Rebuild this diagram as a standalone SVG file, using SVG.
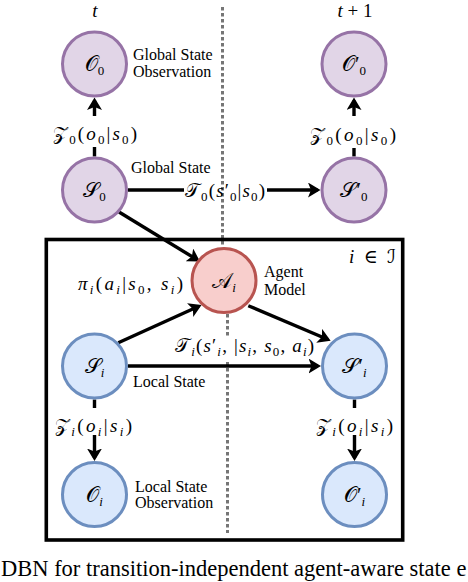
<svg xmlns="http://www.w3.org/2000/svg" width="468" height="582" viewBox="0 0 468 582">
<style>
.np{fill:#e1d5e7;stroke:#9673a6;stroke-width:3}
.nr{fill:#f8cecc;stroke:#b85450;stroke-width:3}
.nb{fill:#dae8fc;stroke:#6c8ebf;stroke-width:3}
.e{fill:none;stroke:#000;stroke-width:3.4;marker-end:url(#ah)}
.m{font-family:"Liberation Serif","DejaVu Serif",serif;font-size:19px;fill:#000}
.nl{font-family:"Liberation Serif","DejaVu Serif",serif;font-size:21px;fill:#000}
.it{font-style:italic}
.sb{font-size:13px}
.cal{font-family:"DejaVu Serif","DejaVu Sans","Noto Sans",serif;font-style:normal}
.lb{font-family:"Liberation Serif",serif;font-size:16px;fill:#000}
.cap{font-family:"Liberation Serif",serif;font-size:22.5px;fill:#000}
</style>
<defs>
<marker id="ah" markerUnits="userSpaceOnUse" viewBox="0 0 13 15" markerWidth="13" markerHeight="15" refX="9.5" refY="7.5" orient="auto">
<path d="M0,0 L12.5,7.5 L0,15 L3,7.5 Z" fill="#000"/>
</marker>
</defs>
<rect width="468" height="582" fill="#fff"/>
<g id="timeline" stroke="#767676" stroke-width="3" stroke-dasharray="3.6 2.4" fill="none">
<path d="M222.5,7 V247"/>
<path d="M227.5,314 V533"/>
</g>
<g id="plate">
<rect x="46.3" y="239.5" width="356.4" height="300.5" fill="none" stroke="#000" stroke-width="3.6"/>
<text class="m" x="349" y="263" textLength="47" lengthAdjust="spacing"><tspan class="it">i</tspan> ∈ <tspan class="cal">ℐ</tspan></text>
</g>
<g id="connectors">
<path class="e" d="M94.5,156.5 V147 M94.5,116 V100.5"/>
<path class="e" d="M354,156.5 V148 M354,116 V100.5"/>
<path class="e" d="M128,190 H184 M267,190 H317.5"/>
<path class="e" d="M119,212 L197.4,259.9"/>
<path class="e" d="M118.3,342.7 L198.8,306.2"/>
<path class="e" d="M248.3,305.7 L327.9,339.5"/>
<rect x="174" y="337" width="141" height="24" fill="#fff"/>
<path class="e" d="M128,366 H318"/>
<path class="e" d="M94.5,399.5 V408 M94.5,435 V458"/>
<path class="e" d="M354.5,399.5 V408 M354.5,435 V458"/>
<text class="m" x="53" y="140" textLength="84" lengthAdjust="spacing"><tspan class="cal">𝒵</tspan><tspan class="sb" dy="4">0</tspan><tspan dy="-4">(</tspan><tspan class="it">o</tspan><tspan class="sb" dy="4">0</tspan><tspan dy="-4">|</tspan><tspan class="it">s</tspan><tspan class="sb" dy="4">0</tspan><tspan dy="-4">)</tspan></text>
<text class="m" x="310" y="141" textLength="86" lengthAdjust="spacing"><tspan class="cal">𝒵</tspan><tspan class="sb" dy="4">0</tspan><tspan dy="-4">(</tspan><tspan class="it">o</tspan><tspan class="sb" dy="4">0</tspan><tspan dy="-4">|</tspan><tspan class="it">s</tspan><tspan class="sb" dy="4">0</tspan><tspan dy="-4">)</tspan></text>
<text class="m" x="185" y="197" textLength="80" lengthAdjust="spacing"><tspan class="cal">𝒯</tspan><tspan class="sb" dy="4">0</tspan><tspan dy="-4">(</tspan><tspan class="it">s</tspan>′<tspan class="sb" dy="4">0</tspan><tspan dy="-4">|</tspan><tspan class="it">s</tspan><tspan class="sb" dy="4">0</tspan><tspan dy="-4">)</tspan></text>
<text class="m" x="78" y="290" textLength="105" lengthAdjust="spacing"><tspan class="it">π</tspan><tspan class="sb it" dy="4">i</tspan><tspan dy="-4">(</tspan><tspan class="it">a</tspan><tspan class="sb it" dy="4">i</tspan><tspan dy="-4">|</tspan><tspan class="it">s</tspan><tspan class="sb" dy="4">0</tspan><tspan dy="-4">, </tspan><tspan class="it">s</tspan><tspan class="sb it" dy="4">i</tspan><tspan dy="-4">)</tspan></text>
<text class="m" x="175" y="352" textLength="139" lengthAdjust="spacing"><tspan class="cal">𝒯</tspan><tspan class="sb it" dy="4">i</tspan><tspan dy="-4">(</tspan><tspan class="it">s</tspan>′<tspan class="sb it" dy="4">i</tspan><tspan dy="-4">, |</tspan><tspan class="it">s</tspan><tspan class="sb it" dy="4">i</tspan><tspan dy="-4">, </tspan><tspan class="it">s</tspan><tspan class="sb" dy="4">0</tspan><tspan dy="-4">, </tspan><tspan class="it">a</tspan><tspan class="sb it" dy="4">i</tspan><tspan dy="-4">)</tspan></text>
<text class="m" x="55" y="432" textLength="77" lengthAdjust="spacing"><tspan class="cal">𝒵</tspan><tspan class="sb it" dy="4">i</tspan><tspan dy="-4">(</tspan><tspan class="it">o</tspan><tspan class="sb it" dy="4">i</tspan><tspan dy="-4">|</tspan><tspan class="it">s</tspan><tspan class="sb it" dy="4">i</tspan><tspan dy="-4">)</tspan></text>
<text class="m" x="316" y="432" textLength="77" lengthAdjust="spacing"><tspan class="cal">𝒵</tspan><tspan class="sb it" dy="4">i</tspan><tspan dy="-4">(</tspan><tspan class="it">o</tspan><tspan class="sb it" dy="4">i</tspan><tspan dy="-4">|</tspan><tspan class="it">s</tspan><tspan class="sb it" dy="4">i</tspan><tspan dy="-4">)</tspan></text>
</g>
<g id="O0">
<circle class="np" cx="94.5" cy="64" r="32"/>
<text class="nl" x="94.5" y="71" text-anchor="middle"><tspan class="cal">𝒪</tspan><tspan class="sb" dy="4">0</tspan></text>
<text class="lb" x="133" y="60">Global State</text>
<text class="lb" x="133" y="77">Observation</text>
</g>
<g id="S0">
<circle class="np" cx="94.5" cy="190" r="32"/>
<text class="nl" x="94.5" y="197" text-anchor="middle"><tspan class="cal">𝒮</tspan><tspan class="sb" dy="4">0</tspan></text>
<text class="lb" x="131" y="173">Global State</text>
</g>
<g id="O0p">
<circle class="np" cx="354" cy="64" r="32"/>
<text class="nl" x="354" y="71" text-anchor="middle"><tspan class="cal">𝒪</tspan>′<tspan class="sb" dy="4">0</tspan></text>
</g>
<g id="S0p">
<circle class="np" cx="354" cy="190" r="32"/>
<text class="nl" x="354" y="197" text-anchor="middle"><tspan class="cal">𝒮</tspan>′<tspan class="sb" dy="4">0</tspan></text>
</g>
<g id="Ai">
<circle class="nr" cx="224" cy="280.5" r="32"/>
<text class="nl" x="224" y="287.5" text-anchor="middle"><tspan class="cal">𝒜</tspan><tspan class="sb it" dy="4">i</tspan></text>
<text class="lb" x="264" y="277">Agent</text>
<text class="lb" x="264" y="295">Model</text>
</g>
<g id="Si">
<circle class="nb" cx="94.5" cy="366" r="32"/>
<text class="nl" x="94.5" y="373" text-anchor="middle"><tspan class="cal">𝒮</tspan><tspan class="sb it" dy="4">i</tspan></text>
<text class="lb" x="133" y="387">Local State</text>
</g>
<g id="Sip">
<circle class="nb" cx="354.5" cy="366" r="32"/>
<text class="nl" x="354.5" y="373" text-anchor="middle"><tspan class="cal">𝒮</tspan>′<tspan class="sb it" dy="4">i</tspan></text>
</g>
<g id="Oi">
<circle class="nb" cx="94.5" cy="494.5" r="32"/>
<text class="nl" x="94.5" y="501.5" text-anchor="middle"><tspan class="cal">𝒪</tspan><tspan class="sb it" dy="4">i</tspan></text>
<text class="lb" x="135" y="492">Local State</text>
<text class="lb" x="135" y="508">Observation</text>
</g>
<g id="Oip">
<circle class="nb" cx="354.5" cy="494.5" r="32"/>
<text class="nl" x="354.5" y="501.5" text-anchor="middle"><tspan class="cal">𝒪</tspan>′<tspan class="sb it" dy="4">i</tspan></text>
</g>
<g id="headers">
<text class="m it" x="95" y="17" text-anchor="middle" font-size="20">t</text>
<text class="m" x="355" y="17" text-anchor="middle" font-size="20"><tspan class="it">t</tspan> + 1</text>
</g>
<text class="cap" x="1" y="576">DBN for transition-independent agent-aware state e</text>
</svg>
